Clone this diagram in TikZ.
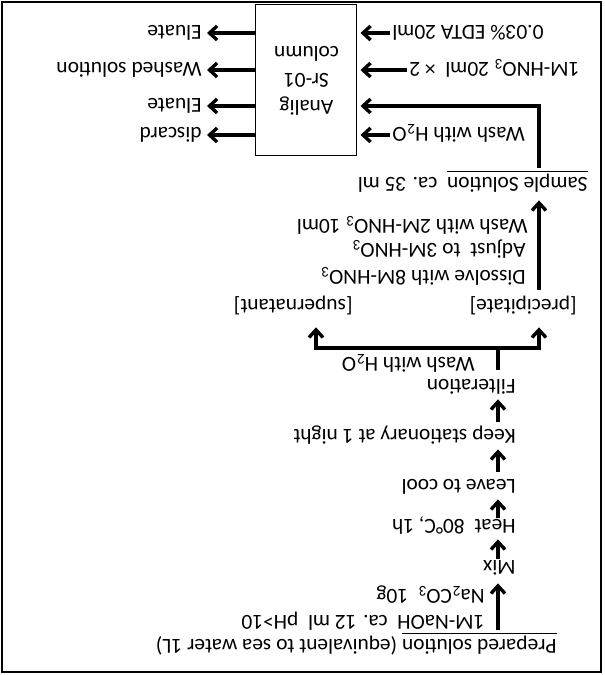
\documentclass[tikz,border=0pt]{standalone}
\usepackage{fontspec}
\setmainfont{Carlito}
\usetikzlibrary{arrows.meta}

\begin{document}
\begin{tikzpicture}[x=0.5pt, y=-0.5pt, rotate=180, transform shape,
	flow/.style={line width=1.7pt, -{Straight Barb[length=3.8pt,width=7pt]}, shorten >=1.5pt},
	link/.style={line width=1.7pt},
	lbl/.style={anchor=west, inner sep=1pt, text height=7pt, text depth=0pt, font=\fontsize{10.7}{13.5}\selectfont},
	colbox/.style={draw, line width=0.5pt, minimum width=50.5pt, minimum height=75.5pt, align=center, font=\fontsize{10.7}{13.5}\selectfont}]
	% Frame
	\useasboundingbox (0,0) rectangle (605,675);
	\draw[line width=0.7pt] (4,3) rectangle (603,673);

	% Precipitation steps
	\coordinate (spine) at (107,0);
	\node[lbl] (prep) at (46,28) {\underline{Prepared solution} (equivalent to sea water 1L)};
	\node[lbl] (naoh) at (118,53) {1M-NaOH\ \ ca. 12 ml\ \ pH>10};
	\node[lbl] (naco) at (118,78) {Na\textsubscript{2}CO\textsubscript{3}\ \ 10g};
	\node[lbl] (mix) at (87,107) {Mix};
	\node[lbl] (heat) at (87,148) {Heat\ \ 80°C, 1h};
	\node[lbl] (cool) at (87,188) {Leave to cool};
	\node[lbl] (keep) at (87,238) {Keep stationary at 1 night};
	\node[lbl] (filt) at (87,288) {Filteration};
	\draw[flow, shorten <=4pt, shorten >=3pt] (prep.south -| spine) -- (mix.north -| spine);
	\draw[flow] (mix.south -| spine) -- (heat.north -| spine);
	\draw[flow] (heat.south -| spine) -- (cool.north -| spine);
	\draw[flow, shorten <=3pt] (cool.south -| spine) -- (keep.north -| spine);
	\draw[flow, shorten <=3pt] (keep.south -| spine) -- (filt.north -| spine);

	% Filtration split
	\coordinate (split) at (107,327);
	\coordinate (leftx) at (66,0);
	\coordinate (rightx) at (289,0);
	\node[lbl] (washa) at (128,310) {Wash with H\textsubscript{2}O};
	\node[lbl] (prec) at (26,368) {[precipitate]};
	\node[lbl] (supn) at (250,368) {[supernatant]};
	\draw[link, shorten <=4pt] (filt.south -| spine) -- (split);
	\draw[flow, shorten >=5.5pt] (split) -| (prec.north -| leftx);
	\draw[flow, shorten >=5.5pt] (split) -| (supn.north -| rightx);

	% Dissolution
	\node[lbl] (diss) at (77,397) {Dissolve with 8M-HNO\textsubscript{3}};
	\node[lbl] (adj) at (77,424) {Adjust\ \ to 3M-HNO\textsubscript{3}};
	\node[lbl] (washb) at (75,448) {Wash with 2M-HNO\textsubscript{3} 10ml};
	\node[lbl] (sample) at (15,490) {\underline{Sample Solution}\ \ ca. 35 ml};
	\draw[flow, shorten <=4pt, shorten >=3pt] (prec.south -| leftx) -- (sample.north -| leftx);

	% Column
	\node[colbox] (col) at (298.5,594.5) {Analig\\Sr-01\\column};
	\node[lbl, anchor=east] (inwash) at (215,540) {Wash with H\textsubscript{2}O};
	\node[lbl, anchor=east] (inhno) at (198,605) {1M-HNO\textsubscript{3} 20ml\ \ × 2};
	\node[lbl, anchor=east] (inedta) at (215,642) {0.03\% EDTA 20ml};
	\node[lbl] (discard) at (401,540) {discard};
	\node[lbl] (eluA) at (401,569) {Eluate};
	\node[lbl] (washed) at (401,605) {Washed solution};
	\node[lbl] (eluB) at (401,642) {Eluate};
	\draw[flow, shorten <=4pt] (sample.south -| leftx) |- (col.west |- eluA);
	\draw[flow] (inwash.east) -- (inwash.east -| col.west);
	\draw[flow] (inhno.east) -- (inhno.east -| col.west);
	\draw[flow] (inedta.east) -- (inedta.east -| col.west);
	\draw[flow] (col.east |- discard.west) -- (discard.west);
	\draw[flow] (col.east |- eluA.west) -- (eluA.west);
	\draw[flow] (col.east |- washed.west) -- (washed.west);
	\draw[flow] (col.east |- eluB.west) -- (eluB.west);

\end{tikzpicture}
\end{document}
